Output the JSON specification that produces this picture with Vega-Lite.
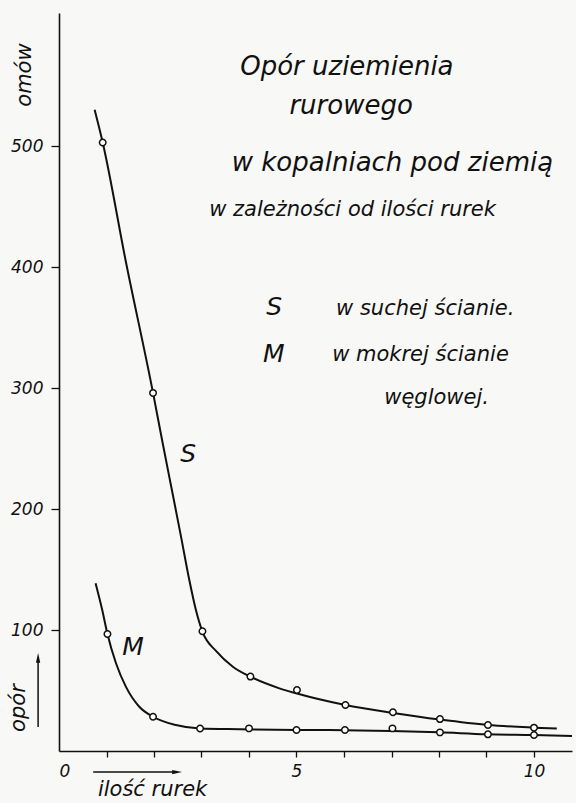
{
  "$schema": "https://vega.github.io/schema/vega-lite/v6.json",
  "width": 513,
  "height": 738,
  "autosize": "none",
  "padding": {"left": 59, "top": 13, "right": 4, "bottom": 52},
  "background": "#f8f8f6",
  "config": {
    "view": {"stroke": null},
    "font": "DejaVu Sans",
    "text": {"font": "DejaVu Sans", "fontStyle": "italic", "color": "#111"},
    "axis": {
      "grid": false,
      "domainColor": "#111",
      "domainWidth": 1.6,
      "tickColor": "#111",
      "tickWidth": 1.3,
      "labelFont": "DejaVu Sans",
      "labelFontStyle": "italic",
      "labelFontSize": 17,
      "labelColor": "#111",
      "title": null
    }
  },
  "datasets": {
    "curves": [
      {"series": "S", "n": 0.75, "r": 530},
      {"series": "S", "n": 0.92, "r": 503},
      {"series": "S", "n": 1.41, "r": 404},
      {"series": "S", "n": 1.98, "r": 296},
      {"series": "S", "n": 2.18, "r": 255},
      {"series": "S", "n": 2.39, "r": 213},
      {"series": "S", "n": 2.57, "r": 177},
      {"series": "S", "n": 2.74, "r": 142},
      {"series": "S", "n": 2.88, "r": 117},
      {"series": "S", "n": 3.02, "r": 98.6},
      {"series": "S", "n": 3.31, "r": 82.5},
      {"series": "S", "n": 3.66, "r": 69.7},
      {"series": "S", "n": 4.03, "r": 61.4},
      {"series": "S", "n": 4.64, "r": 51.8},
      {"series": "S", "n": 5.01, "r": 47.5},
      {"series": "S", "n": 6.03, "r": 38},
      {"series": "S", "n": 7.03, "r": 31.5},
      {"series": "S", "n": 8.02, "r": 26},
      {"series": "S", "n": 9.03, "r": 21.5},
      {"series": "S", "n": 10.0, "r": 19.3},
      {"series": "S", "n": 10.48, "r": 18.5},
      {"series": "M", "n": 0.77, "r": 138.6},
      {"series": "M", "n": 0.91, "r": 116.5},
      {"series": "M", "n": 1.02, "r": 96.7},
      {"series": "M", "n": 1.2, "r": 72.5},
      {"series": "M", "n": 1.41, "r": 53},
      {"series": "M", "n": 1.69, "r": 36.6},
      {"series": "M", "n": 1.98, "r": 28.3},
      {"series": "M", "n": 2.46, "r": 21.5},
      {"series": "M", "n": 2.97, "r": 18.6},
      {"series": "M", "n": 3.8, "r": 18},
      {"series": "M", "n": 5.0, "r": 17.4},
      {"series": "M", "n": 6.0, "r": 17.2},
      {"series": "M", "n": 7.0, "r": 16.5},
      {"series": "M", "n": 8.0, "r": 15.4},
      {"series": "M", "n": 9.0, "r": 13.8},
      {"series": "M", "n": 10.0, "r": 13.2},
      {"series": "M", "n": 10.8, "r": 12.5}
    ],
    "markers": [
      {"series": "S", "n": 0.92, "r": 503},
      {"series": "S", "n": 1.98, "r": 296},
      {"series": "S", "n": 3.02, "r": 99},
      {"series": "S", "n": 4.03, "r": 61.5},
      {"series": "S", "n": 5.01, "r": 50.4},
      {"series": "S", "n": 6.03, "r": 38},
      {"series": "S", "n": 7.03, "r": 32},
      {"series": "S", "n": 8.02, "r": 26.4},
      {"series": "S", "n": 9.03, "r": 21.5},
      {"series": "S", "n": 10.0, "r": 19.3},
      {"series": "M", "n": 1.02, "r": 96.7},
      {"series": "M", "n": 1.98, "r": 28.3},
      {"series": "M", "n": 2.97, "r": 18.6},
      {"series": "M", "n": 4.0, "r": 18.7},
      {"series": "M", "n": 5.0, "r": 17.4},
      {"series": "M", "n": 6.02, "r": 17.4},
      {"series": "M", "n": 7.02, "r": 18.7},
      {"series": "M", "n": 8.02, "r": 15.4},
      {"series": "M", "n": 9.03, "r": 13.8},
      {"series": "M", "n": 10.0, "r": 13.2}
    ]
  },
  "layer": [
    {
      "data": {"name": "curves"},
      "mark": {"type": "line", "interpolate": "monotone", "color": "#111", "strokeWidth": 2},
      "encoding": {
        "x": {"field": "n", "type": "quantitative", "scale": {"domain": [0, 10.8], "nice": false, "zero": false},
          "axis": {"values": [0, 1, 2, 3, 4, 5, 6, 7, 8, 9, 10], "tickSize": 6, "labelPadding": 6,
            "labelExpr": "datum.value % 5 == 0 ? datum.label : ''",
            "tickOpacity": {"condition": {"test": "datum.value == 0", "value": 0}, "value": 1}}},
        "y": {"field": "r", "type": "quantitative", "scale": {"domain": [0, 610], "nice": false},
          "axis": {"values": [100, 200, 300, 400, 500], "tickSize": 8, "labelPadding": 8}},
        "detail": {"field": "series"}
      }
    },
    {
      "data": {"name": "markers"},
      "mark": {"type": "point", "shape": "circle", "filled": true, "fill": "#ffffff", "stroke": "#111", "strokeWidth": 1.5, "size": 42, "opacity": 1},
      "encoding": {
        "x": {"field": "n", "type": "quantitative"},
        "y": {"field": "r", "type": "quantitative"}
      }
    },
    {
      "data": {"values": [
        {"text": "Opór uziemienia", "n": 6.06, "r": 558.7},
        {"text": "rurowego", "n": 6.15, "r": 526.4},
        {"text": "w kopalniach pod ziemią", "n": 7.02, "r": 479.3}
      ]},
      "mark": {"type": "text", "fontSize": 26, "align": "center", "baseline": "alphabetic"},
      "encoding": {
        "x": {"field": "n", "type": "quantitative"},
        "y": {"field": "r", "type": "quantitative"},
        "text": {"field": "text"}
      }
    },
    {
      "data": {"values": [
        {"text": "w zależności od ilości rurek", "n": 6.18, "r": 442},
        {"text": "w suchej ścianie.", "n": 7.71, "r": 360.3},
        {"text": "w mokrej ścianie", "n": 7.61, "r": 322.3},
        {"text": "węglowej.", "n": 7.95, "r": 286.8}
      ]},
      "mark": {"type": "text", "fontSize": 21, "align": "center", "baseline": "alphabetic"},
      "encoding": {
        "x": {"field": "n", "type": "quantitative"},
        "y": {"field": "r", "type": "quantitative"},
        "text": {"field": "text"}
      }
    },
    {
      "data": {"values": [
        {"text": "S", "n": 4.53, "r": 360.3},
        {"text": "M", "n": 4.52, "r": 321.5},
        {"text": "S", "n": 2.72, "r": 238.8},
        {"text": "M", "n": 1.56, "r": 79.3}
      ]},
      "mark": {"type": "text", "fontSize": 25, "align": "center", "baseline": "alphabetic"},
      "encoding": {
        "x": {"field": "n", "type": "quantitative"},
        "y": {"field": "r", "type": "quantitative"},
        "text": {"field": "text"}
      }
    },
    {
      "data": {"values": [
        {"text": "omów", "n": -0.72, "r": 558.7},
        {"text": "opór", "n": -0.84, "r": 35.5}
      ]},
      "mark": {"type": "text", "fontSize": 21, "align": "center", "baseline": "middle", "angle": 270},
      "encoding": {
        "x": {"field": "n", "type": "quantitative"},
        "y": {"field": "r", "type": "quantitative"},
        "text": {"field": "text"}
      }
    },
    {
      "data": {"values": [
        {"text": "ilość rurek", "n": 1.97, "r": -32.5}
      ]},
      "mark": {"type": "text", "fontSize": 21, "align": "center", "baseline": "middle"},
      "encoding": {
        "x": {"field": "n", "type": "quantitative"},
        "y": {"field": "r", "type": "quantitative"},
        "text": {"field": "text"}
      }
    },
    {
      "data": {"values": [
        {"n": -0.44, "n2": -0.44, "r": 19.8, "r2": 76},
        {"n": 0.72, "n2": 2.46, "r": -17.4, "r2": -17.4}
      ]},
      "mark": {"type": "rule", "color": "#111", "strokeWidth": 1.5},
      "encoding": {
        "x": {"field": "n", "type": "quantitative"},
        "x2": {"field": "n2"},
        "y": {"field": "r", "type": "quantitative"},
        "y2": {"field": "r2"}
      }
    },
    {
      "data": {"values": [{"n": -0.44, "r": 76}]},
      "mark": {"type": "point", "shape": "M0,-1L0.35,0.6L-0.35,0.6Z", "filled": true, "color": "#111", "size": 150, "opacity": 1},
      "encoding": {
        "x": {"field": "n", "type": "quantitative"},
        "y": {"field": "r", "type": "quantitative"}
      }
    },
    {
      "data": {"values": [{"n": 2.46, "r": -17.4}]},
      "mark": {"type": "point", "shape": "M1,0L-0.6,0.35L-0.6,-0.35Z", "filled": true, "color": "#111", "size": 150, "opacity": 1},
      "encoding": {
        "x": {"field": "n", "type": "quantitative"},
        "y": {"field": "r", "type": "quantitative"}
      }
    }
  ]
}
